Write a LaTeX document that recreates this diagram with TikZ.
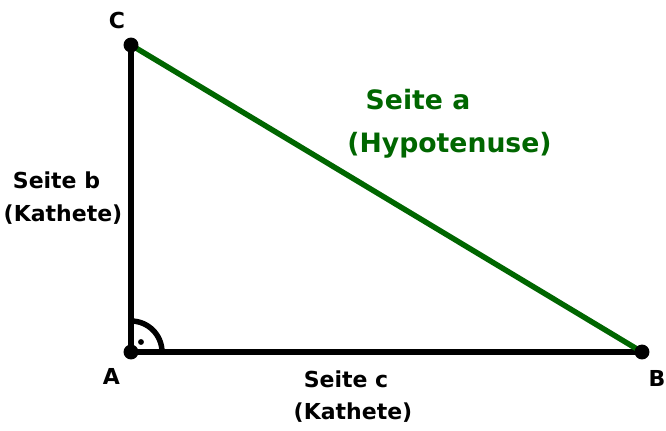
\documentclass[tikz,border=0pt]{standalone}
\usepackage{fontspec}
\setmainfont{DejaVu Sans}
\usetikzlibrary{calc}
\definecolor{hypgreen}{RGB}{0,102,0}
\tikzset{
  side/.style={line width=4.1pt},
  vertex/.style={fill=black},
  lbl/.style={font=\fontsize{16.5}{20}\selectfont\bfseries, align=center},
  biglbl/.style={font=\fontsize{20}{24}\selectfont\bfseries, color=hypgreen}
}

\begin{document}
\begin{tikzpicture}[x=0.75pt, y=-0.75pt]
			%%%%% START %%%%%
			
			\useasboundingbox (0, 0) rectangle (666, 430);
			
			\coordinate (A) at (131, 352);
			\coordinate (B) at (642, 352);
			\coordinate (C) at (131, 45);
			
			\draw[side] (A) -- (B);
			\draw[side] (A) -- (C);
			\draw[side, color=hypgreen] (C) -- (B);
			
			\draw[side] ($(A)+(31, 0)$) arc (0:90:23.25pt);
			\fill ($(A)+(10, -10)$) circle (2.2pt);
			
			\fill[vertex] (A) circle (5.6pt);
			\fill[vertex] (B) circle (5.6pt);
			\fill[vertex] (C) circle (5.6pt);
			
			\node[lbl] (labA) at (111.5, 376) {A};
			\node[lbl] (labB) at (657, 378) {B};
			\node[lbl] (labC) at (117, 20) {C};
			
			\node[biglbl] (sidea) at (418, 100) {Seite a};
			\node[biglbl] (hyp) at (449.5, 145) {(Hypotenuse)};
			\node[lbl] (sideb) at (56.5, 180) {Seite b};
			\node[lbl] (katb) at (63, 215) {(Kathete)};
			\node[lbl] (sidec) at (346, 379) {Seite c};
			\node[lbl] (katc) at (353, 413) {(Kathete)};
			
			%%%%% END %%%%%
\end{tikzpicture}
\end{document}
